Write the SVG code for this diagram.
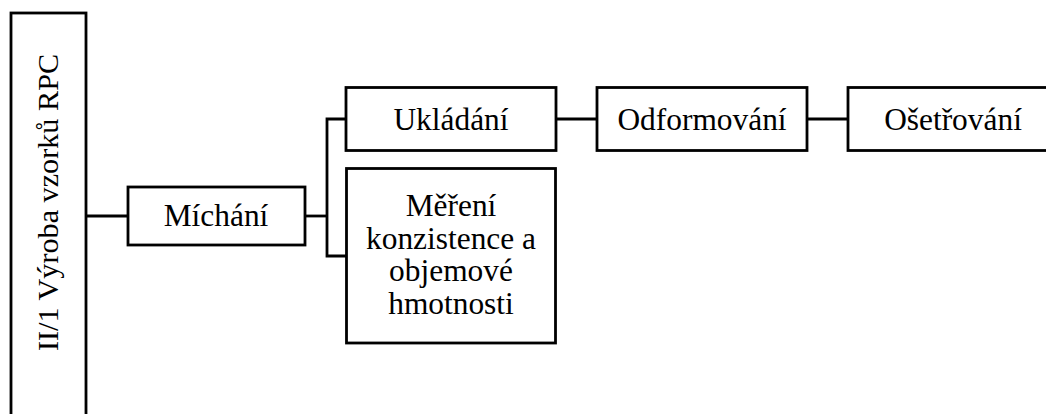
<svg xmlns="http://www.w3.org/2000/svg" width="1046" height="414" viewBox="0 0 1046 414">
<style>
.box{fill:#fff;stroke:#000;stroke-width:2.8}
.ln{fill:none;stroke:#000;stroke-width:2.8}
text{font-family:"Liberation Serif","Times New Roman",serif;font-size:31.4px;fill:#000;text-anchor:middle}
</style>
<rect width="1046" height="414" fill="#fff"/>
<g id="connectors">
<line class="ln" x1="86" y1="216" x2="128" y2="216"/>
<line class="ln" x1="305" y1="216" x2="327" y2="216"/>
<polyline class="ln" points="346,119 327,119 327,256 346,256"/>
<line class="ln" x1="556" y1="119" x2="597" y2="119"/>
<line class="ln" x1="807" y1="119" x2="848" y2="119"/>
</g>
<g id="n-vyroba">
<rect class="box" x="11" y="13" width="75" height="420"/>
<text transform="translate(58,202.5) rotate(-90)" style="font-size:30.2px">II/1 Výroba vzorků RPC</text>
</g>
<g id="n-michani">
<rect class="box" x="128" y="187" width="177" height="58"/>
<text x="216" y="226">Míchání</text>
</g>
<g id="n-ukladani">
<rect class="box" x="346" y="87.5" width="210" height="63"/>
<text x="451" y="130">Ukládání</text>
</g>
<g id="n-odformovani">
<rect class="box" x="597" y="87.5" width="210" height="63"/>
<text x="702" y="130">Odformování</text>
</g>
<g id="n-osetrovani">
<rect class="box" x="848" y="87.5" width="210" height="63"/>
<text x="953" y="130">Ošetřování</text>
</g>
<g id="n-mereni">
<rect class="box" x="346.5" y="168.5" width="209" height="174.5"/>
<text x="451" y="216">Měření</text>
<text x="451" y="248.5">konzistence a</text>
<text x="451" y="281">objemové</text>
<text x="451" y="314">hmotnosti</text>
</g>
</svg>
